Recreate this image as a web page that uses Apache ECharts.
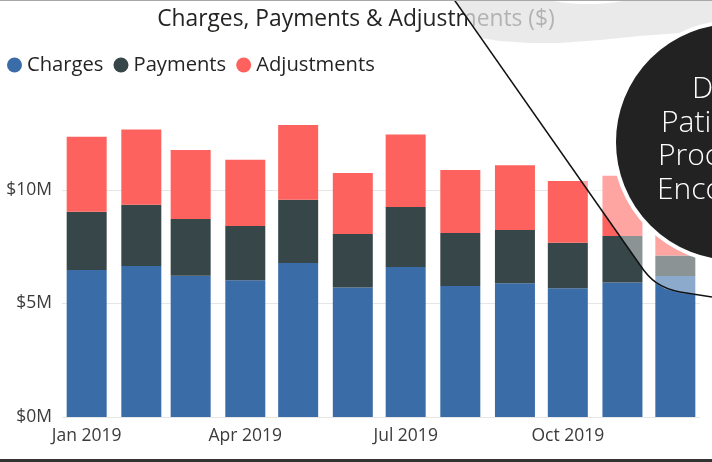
<!DOCTYPE html>
<html>
<head>
<meta charset="utf-8">
<script src="https://cdn.jsdelivr.net/npm/echarts@6/dist/echarts.min.js"></script>
<style>
html,body{margin:0;padding:0;background:#fff;}
#chart{width:712px;height:462px;}
</style>
</head>
<body>
<div id="chart"></div>
<script>
// ---- data ----
const months = ['2019-01-01','2019-02-01','2019-03-01','2019-04-01','2019-05-01','2019-06-01',
                '2019-07-01','2019-08-01','2019-09-01','2019-10-01','2019-11-01','2019-12-01'];
const charges     = [6.48, 6.65, 6.22, 6.02, 6.78, 5.71, 6.61, 5.77, 5.89, 5.67, 5.92, 6.21];
const payments    = [2.56, 2.70, 2.50, 2.39, 2.79, 2.35, 2.64, 2.34, 2.35, 2.01, 2.05, 0.90];
const adjustments = [3.31, 3.31, 3.04, 2.92, 3.29, 2.69, 3.20, 2.77, 2.85, 2.72, 2.66, 1.20];
const seriesNames = ['Charges', 'Payments', 'Adjustments'];
const tickDates  = ['2019-01-01', '2019-04-01', '2019-07-01', '2019-10-01'];
const tickLabels = ['Jan 2019', 'Apr 2019', 'Jul 2019', 'Oct 2019'];
const yTicks = [0, 5, 10];
const yTickLabels = ['$0M', '$5M', '$10M'];
const circleLines = ['Drill', 'Patients', 'Procedures', 'Encounters'];

const FONT = '"Open Sans", "Noto Sans", sans-serif';
const colors = ['#3A6DA8', '#374649', '#FD625E'];

function ts(s){ const p = s.split('-').map(Number); return new Date(p[0], p[1]-1, p[2]).getTime(); }
const tickTs = tickDates.map(ts);

const BAR_W = 40;
const GRID = { left: 62, right: 12, top: 76.5, bottom: 45 };
const GRID_W = 712 - GRID.left - GRID.right;
// ECharts widens a time axis by half a bar on each side; pre-shrink so the final extent is as wanted
const xLo = ts('2018-12-18'), xHi = ts('2019-12-15');
const xPad = (xHi - xLo) * (BAR_W / 2) / GRID_W;

function mkSeries(name, vals, color){
  return {
    name: name, type: 'bar', stack: 'total', barWidth: BAR_W,
    itemStyle: { color: color },
    emphasis: { disabled: true },
    data: months.map((m, i) => [ts(m), vals[i] * 1e6])
  };
}

const chart = echarts.init(document.getElementById('chart'), null, { renderer: 'canvas' });

const overlayPts = [[455,0],[481,37],[640,265],[647,275],[655,283],[665,289],[680,293],[712,297],[712,0]];
const grayPts = [[453,0],[481,38],[500,41],[530,43],[560,43],[600,40],[640,36],[680,33],[712,31],[712,0]];

function xLabel(v){
  for (let i = 0; i < tickTs.length; i++) {
    if (Math.abs(v - tickTs[i]) < 3600e3 * 2) return tickLabels[i];
  }
  return '';
}

function circleText(i, x, y){
  return { type: 'text', z: 104, silent: true, x: x, y: y,
    style: { text: circleLines[i], fill: '#ffffff', font: '300 30px ' + FONT, verticalAlign: 'middle', align: 'left' } };
}

chart.setOption({
  animation: false,
  color: colors,
  title: {
    text: 'Charges, Payments & Adjustments ($)',
    left: 'center', top: 3,
    textStyle: { fontFamily: FONT, fontSize: 22.8, fontWeight: 'normal', color: '#252423' }
  },
  legend: {
    left: 7, top: 55, padding: 0,
    icon: 'circle', itemWidth: 15, itemHeight: 15, itemGap: 10,
    textStyle: { fontFamily: FONT, fontSize: 20.2, color: '#252423' },
    data: seriesNames
  },
  grid: GRID,
  xAxis: {
    type: 'time',
    min: xLo + xPad, max: xHi - xPad,
    splitNumber: 4,
    axisLine: { show: false }, axisTick: { show: false }, splitLine: { show: false },
    axisLabel: {
      margin: 10, hideOverlap: false,
      showMinLabel: false, showMaxLabel: false,
      fontFamily: FONT, fontSize: 17.5, color: '#3b3b3b', fontWeight: 'normal',
      rich: {},
      formatter: function(v){ return xLabel(v); }
    }
  },
  yAxis: {
    type: 'value', min: 0, max: 15e6, interval: 5e6,
    axisLine: { show: false }, axisTick: { show: false },
    splitLine: { lineStyle: { color: ['#e6e6e6','#e6e6e6','#e6e6e6','rgba(0,0,0,0)'], width: 1 } },
    axisLabel: {
      margin: 10, fontFamily: FONT, fontSize: 17.5, color: '#3b3b3b',
      formatter: function(v){ const k = Math.round(v/1e6); const i = yTicks.indexOf(k); return i >= 0 ? yTickLabels[i] : ''; }
    }
  },
  series: [
    mkSeries(seriesNames[0], charges, colors[0]),
    mkSeries(seriesNames[1], payments, colors[1]),
    mkSeries(seriesNames[2], adjustments, colors[2])
  ],
  graphic: [
    { type: 'polygon', z: 100, silent: true, shape: { points: overlayPts }, style: { fill: 'rgba(255,255,255,0.42)' } },
    { type: 'polygon', z: 101, silent: true, shape: { points: grayPts }, style: { fill: 'rgba(218,218,218,0.56)' } },
    { type: 'ellipse', z: 102, silent: true, shape: { cx: 588, cy: -3, rx: 42, ry: 7 }, style: { fill: '#ffffff' } },
    { type: 'circle', z: 103, silent: true, shape: { cx: 734, cy: 142, r: 120 }, style: { fill: '#222222', stroke: '#ffffff', lineWidth: 4 } },
    circleText(0, 692, 89),
    circleText(1, 661, 123),
    circleText(2, 658, 156),
    circleText(3, 657, 190),
    { type: 'line', z: 105, silent: true, shape: { x1: 453, y1: -2, x2: 640, y2: 265 }, style: { stroke: '#111111', lineWidth: 1.5 } },
    { type: 'bezierCurve', z: 105, silent: true, shape: { x1: 640, y1: 265, cpx1: 650, cpy1: 280, cpx2: 660, cpy2: 288, x2: 680, y2: 292 }, style: { fill: 'none', stroke: '#111111', lineWidth: 1.5 } },
    { type: 'line', z: 105, silent: true, shape: { x1: 680, y1: 292, x2: 712, y2: 297 }, style: { stroke: '#111111', lineWidth: 1.5 } },
    { type: 'rect', z: 106, silent: true, shape: { x: 0, y: 0, width: 712, height: 1 }, style: { fill: '#a8a8a8' } },
    { type: 'rect', z: 106, silent: true, shape: { x: 0, y: 459, width: 712, height: 3 }, style: { fill: '#333333' } }
  ]
});
</script>
</body>
</html>
